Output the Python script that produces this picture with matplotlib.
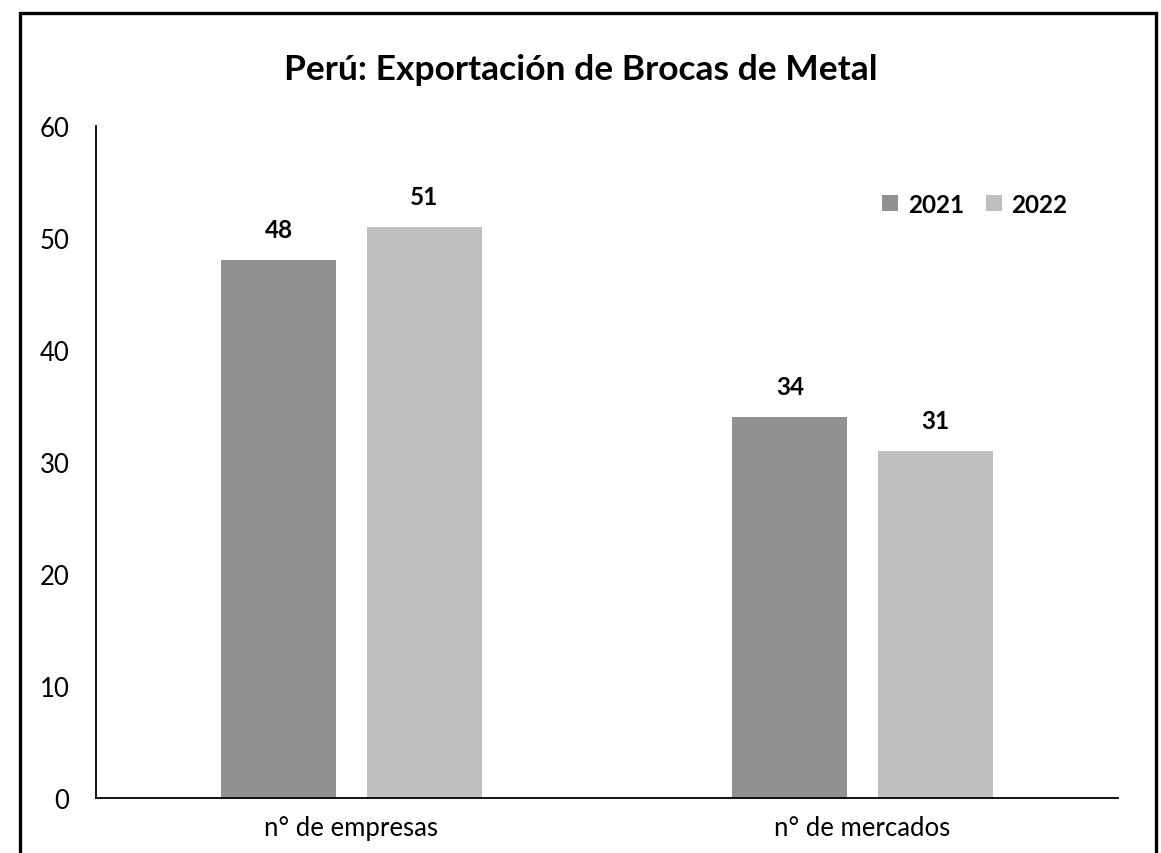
"""Peru metal drill bit exports: companies and markets, 2021 vs 2022."""

import matplotlib.pyplot as plt
from matplotlib.patches import Rectangle
import numpy as np

plt.rcParams["font.family"] = ["Lato", "DejaVu Sans"]

categories = ["n° de empresas", "n° de mercados"]
years = ["2021", "2022"]
values_2021 = [48, 34]
values_2022 = [51, 31]
y_ticks = [0, 10, 20, 30, 40, 50, 60]

COLORS = ["#919191", "#bfbfbf"]


def main() -> None:
    fig = plt.figure(figsize=(11.61, 8.54), dpi=100)
    fig.patch.set_facecolor("white")

    # outer frame (open at the bottom, as in the source image)
    fig.add_artist(Rectangle((20 / 1161, -0.05), 1136 / 1161, 1.05 - 14 / 854,
                             transform=fig.transFigure, fill=False,
                             edgecolor="black", linewidth=2.4))

    ax = fig.add_axes([96 / 1161, 1 - 799 / 854, 1022 / 1161, 672 / 854])
    x = np.arange(len(categories))
    width = 0.225
    offset = 0.142

    for vals, off, color, label in [(values_2021, -offset, COLORS[0], years[0]),
                                    (values_2022, offset, COLORS[1], years[1])]:
        bars = ax.bar(x + off, vals, width, color=color, label=label)
        for b, v in zip(bars, vals):
            ax.text(b.get_x() + b.get_width() / 2, v + 1.7, str(v),
                    ha="center", va="bottom", fontsize=17.5, weight="bold")

    ax.set_xlim(-0.5, 1.5)
    ax.set_ylim(0, 60)
    ax.set_yticks(y_ticks)
    ax.set_xticks(x)
    ax.set_xticklabels(categories)
    ax.tick_params(axis="both", length=0, labelsize=18.5, colors="black")
    ax.tick_params(axis="y", pad=19)
    ax.tick_params(axis="x", pad=12)
    for side in ["top", "right"]:
        ax.spines[side].set_visible(False)
    ax.spines["left"].set_linewidth(1.3)
    ax.spines["bottom"].set_linewidth(1.3)

    ax.legend(loc="upper right", bbox_to_anchor=(0.972, 0.933), ncol=2,
              frameon=False, handlelength=0.65, handleheight=0.65,
              columnspacing=0.9, handletextpad=0.4,
              prop={"size": 17.5, "weight": "bold"})

    fig.text(581 / 1161, 1 - 70 / 854, "Perú: Exportación de Brocas de Metal",
             ha="center", va="center", fontsize=25.5, weight="bold")

    fig.savefig("out.png", dpi=100, facecolor="white")
    plt.close(fig)


if __name__ == "__main__":
    main()
